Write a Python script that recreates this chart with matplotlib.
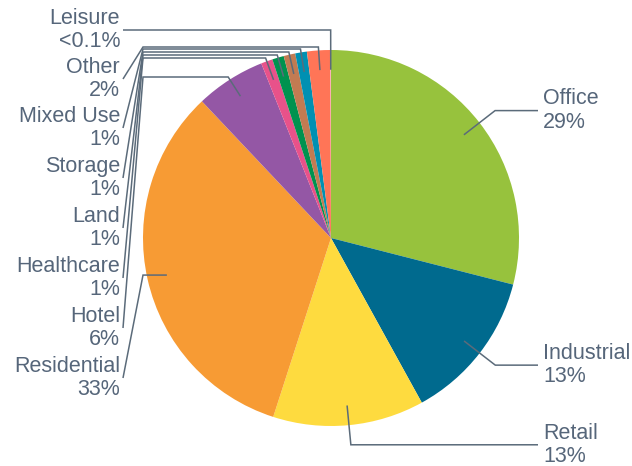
import numpy as np
import matplotlib
matplotlib.use("Agg")
import matplotlib.pyplot as plt

plt.rcParams["font.family"] = ["Liberation Sans", "DejaVu Sans"]

# clockwise from 12 o'clock
sectors = ["Office", "Industrial", "Retail", "Residential", "Hotel",
           "Healthcare", "Land", "Storage", "Mixed Use", "Other", "Leisure"]
shares = [29, 13, 13, 33, 6, 1, 1, 1, 1, 2, 0.05]
colors = ["#97C23D", "#006A8E", "#FEDB3F", "#F79B34", "#9457A5",
          "#E8528A", "#00924F", "#C27B52", "#0090B2", "#FF7557", "#F7A9C4"]

right_side = ["Office", "Industrial", "Retail"]
# left labels, top to bottom: label centre y and leader lane y (pixels)
left_order = ["Leisure", "Other", "Mixed Use", "Storage", "Land",
              "Healthcare", "Hotel", "Residential"]
left_text_y = [30, 79, 128, 178, 228, 278, 328, 378]
left_lane_y = [30, 47, 49, 52, 55, 58, 77, None]

TEXT = "#56667A"
LINE = "#5B6B7A"
W, H = 632, 466
CX, CY, R = 331, 238, 188


def px(x, y):
    return (x - CX) / R, (CY - y) / R


def label_text(name, pct):
    if pct < 0.1:
        return f"{name}\n<0.1%"
    return f"{name}\n{pct:.0f}%"


def main():
    fig = plt.figure(figsize=(W / 100, H / 100), dpi=100)
    ax = fig.add_axes([0, 0, 1, 1])
    ax.pie(shares, colors=colors, startangle=90, counterclock=False,
           radius=1, center=(0, 0), wedgeprops=dict(linewidth=0))
    x0, y0 = px(0, H)
    x1, y1 = px(W, 0)
    ax.set_xlim(x0, x1)
    ax.set_ylim(y0, y1)
    ax.set_aspect("equal")
    ax.axis("off")

    total = sum(shares)
    cum = np.cumsum([0] + shares[:-1])
    mids = {}
    for name, c, v in zip(sectors, cum, shares):
        mids[name] = np.radians(360 * (c + v / 2) / total)
    pcts = {name: 100 * v / total for name, v in zip(sectors, shares)}

    kw = dict(color=LINE, lw=1.1, solid_capstyle="butt", solid_joinstyle="miter")
    fs = 15.5
    ls = 1.15

    for name in right_side:
        t = mids[name]
        sx, sy = 0.895 * np.sin(t), 0.895 * np.cos(t)
        ex, ey = 1.105 * np.sin(t), 1.105 * np.cos(t)
        hx, _ = px(538, 0)
        ax.plot([sx, ex, hx], [sy, ey, ey], **kw)
        tx, _ = px(543, 0)
        ax.text(tx, ey, label_text(name, pcts[name]), ha="left",
                va="center", fontsize=fs, color=TEXT, linespacing=ls)

    bend_x, _ = px(143, 0)
    end_x, _ = px(123, 0)
    text_x, _ = px(120, 0)
    for name, ty, lane in zip(left_order, left_text_y, left_lane_y):
        t = mids[name]
        sx, sy = 0.895 * np.sin(t), 0.895 * np.cos(t)
        if lane is None:
            ex, ey = sx, sy
        else:
            _, ey = px(0, lane)
            re = ey / np.cos(t)
            ex = re * np.sin(t)
        _, ly = px(0, ty)
        ax.plot([sx, ex, bend_x, end_x], [sy, ey, ey, ly], **kw)
        ax.text(text_x, ly, label_text(name, pcts[name]), ha="right",
                va="center", fontsize=fs, color=TEXT, linespacing=ls)

    fig.savefig("out.png", dpi=100)


if __name__ == "__main__":
    main()
